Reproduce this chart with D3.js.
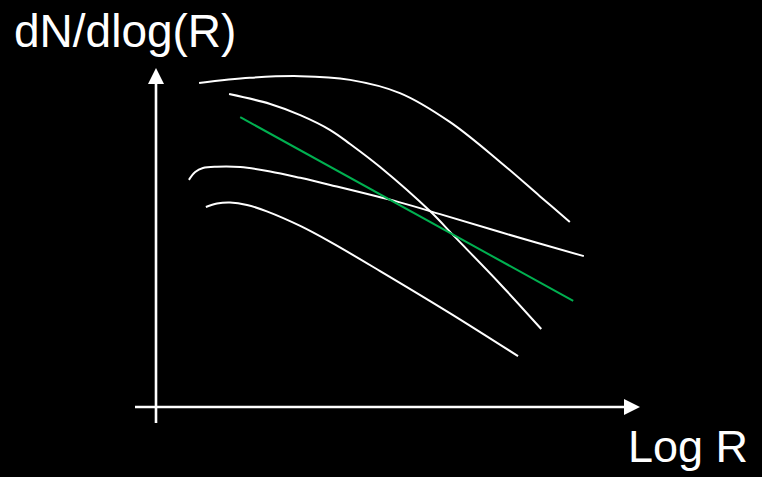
<!DOCTYPE html>
<html>
<head>
<meta charset="utf-8">
<script src="https://cdn.jsdelivr.net/npm/d3@7"></script>
<style>
  html, body { margin: 0; padding: 0; background: #000; }
  svg { display: block; }
</style>
</head>
<body>
<script>
// ---- data (schematic size distributions, arbitrary units) ----
const xLabel = "Log R";
const yLabel = "dN/dlog(R)";
const axisDomainX = [0, 10];
const axisDomainY = [0, 10];

const curveTopX = [0.89, 1.94, 2.98, 4.01, 5.04, 6.07, 7.11, 7.93, 8.55];
const curveTopY = [9.56, 9.71, 9.76, 9.65, 9.26, 8.41, 7.23, 6.22, 5.46];

const curveSteepX = [1.51, 2.36, 2.98, 3.60, 4.01, 4.63, 5.66, 6.18, 7.11, 7.96];
const curveSteepY = [9.23, 8.94, 8.61, 8.17, 7.76, 7.08, 5.78, 5.01, 3.63, 2.30];

const powerLawX = [1.74, 8.62];
const powerLawY = [8.55, 3.13];

const curveFlatX = [0.68, 0.81, 0.97, 1.26, 1.74, 2.36, 2.98, 3.60, 5.00, 5.87, 7.11, 8.84];
const curveFlatY = [6.70, 6.93, 7.05, 7.09, 7.08, 6.95, 6.76, 6.55, 6.05, 5.69, 5.16, 4.45];

const curveLowX = [1.03, 1.26, 1.53, 1.88, 2.29, 2.98, 3.60, 4.63, 6.07, 7.48];
const curveLowY = [5.90, 6.00, 6.03, 5.96, 5.77, 5.34, 4.87, 4.01, 2.77, 1.50];

const W = 762, H = 477;
const svg = d3.select("body").append("svg").attr("width", W).attr("height", H)
  .style("background", "#000");

const x = d3.scaleLinear().domain(axisDomainX).range([156, 640]);
const y = d3.scaleLinear().domain(axisDomainY).range([407, 68]);

const zip = (xs, ys) => xs.map((v, i) => [v, ys[i]]);
const line = d3.line().x(d => x(d[0])).y(d => y(d[1])).curve(d3.curveCatmullRom.alpha(0.5));
const straight = d3.line().x(d => x(d[0])).y(d => y(d[1]));

// axes
const x0 = x(0), y0 = y(0);
const xTip = x(axisDomainX[1]), yTip = y(axisDomainY[1]);
svg.append("line").attr("x1", x0).attr("x2", x0).attr("y1", y0 + 16).attr("y2", yTip + 10)
  .attr("stroke", "#fff").attr("stroke-width", 2.6);
svg.append("path").attr("d", `M${x0},${yTip} L${x0 - 8},${yTip + 16} L${x0 + 8},${yTip + 16} Z`)
  .attr("fill", "#fff");
svg.append("line").attr("x1", x0 - 21).attr("x2", xTip - 10).attr("y1", y0).attr("y2", y0)
  .attr("stroke", "#fff").attr("stroke-width", 2.6);
svg.append("path").attr("d", `M${xTip},${y0} L${xTip - 16},${y0 - 8} L${xTip - 16},${y0 + 8} Z`)
  .attr("fill", "#fff");

// curves
[[curveTopX, curveTopY], [curveSteepX, curveSteepY], [curveFlatX, curveFlatY], [curveLowX, curveLowY]]
  .forEach(([xs, ys]) => {
    svg.append("path").attr("d", line(zip(xs, ys)))
      .attr("fill", "none").attr("stroke", "#fff").attr("stroke-width", 2);
  });
svg.append("path").attr("d", straight(zip(powerLawX, powerLawY)))
  .attr("fill", "none").attr("stroke", "#00b050").attr("stroke-width", 2);

// labels
const font = "'Liberation Sans', Arial, Helvetica, sans-serif";
svg.append("text").attr("x", 14).attr("y", 47).text(yLabel)
  .attr("fill", "#fff").attr("font-family", font).attr("font-size", 46);
svg.append("text").attr("x", 628).attr("y", 462).text(xLabel)
  .attr("fill", "#fff").attr("font-family", font).attr("font-size", 45);
</script>
</body>
</html>
